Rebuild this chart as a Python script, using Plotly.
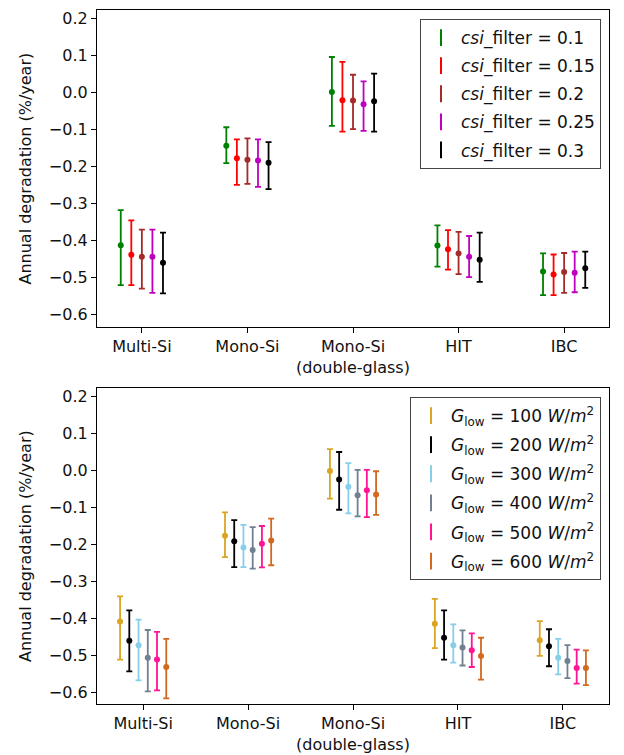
import plotly.graph_objects as go

categories = ["Multi-Si", "Mono-Si", "Mono-Si<br>(double-glass)", "HIT", "IBC"]
cat_pos = [0, 1, 2, 3, 4]
ytick_vals = [0.2, 0.1, 0.0, -0.1, -0.2, -0.3, -0.4, -0.5, -0.6]
ytick_text = ["0.2", "0.1", "0.0", "\u22120.1", "\u22120.2", "\u22120.3", "\u22120.4", "\u22120.5", "\u22120.6"]
y_title = "Annual degradation (%/year)"

# ---- top panel: csi_filter ----
csi_labels = ["0.1", "0.15", "0.2", "0.25", "0.3"]
csi_colors = ["#008000", "#ff0000", "#a52a2a", "#bf00bf", "#000000"]
csi_offsets = [-0.2, -0.1, 0.0, 0.1, 0.2]
csi_mean = [
    [-0.414, -0.145, 0.000, -0.415, -0.485],
    [-0.440, -0.179, -0.022, -0.425, -0.493],
    [-0.445, -0.183, -0.023, -0.436, -0.486],
    [-0.445, -0.185, -0.033, -0.445, -0.488],
    [-0.461, -0.191, -0.025, -0.453, -0.476],
]
csi_upper = [
    [-0.319, -0.095, 0.095, -0.360, -0.436],
    [-0.347, -0.128, 0.082, -0.373, -0.439],
    [-0.372, -0.125, 0.047, -0.378, -0.435],
    [-0.372, -0.128, 0.029, -0.389, -0.431],
    [-0.380, -0.135, 0.050, -0.380, -0.431],
]
csi_lower = [
    [-0.522, -0.192, -0.091, -0.472, -0.549],
    [-0.522, -0.251, -0.107, -0.480, -0.549],
    [-0.531, -0.248, -0.100, -0.492, -0.543],
    [-0.543, -0.256, -0.105, -0.500, -0.541],
    [-0.544, -0.262, -0.107, -0.513, -0.529],
]

# ---- bottom panel: G_low ----
g_labels = ["100", "200", "300", "400", "500", "600"]
g_colors = ["#daa520", "#000000", "#87ceeb", "#708090", "#ff1493", "#d2691e"]
g_offsets = [-0.22, -0.132, -0.044, 0.044, 0.132, 0.22]
g_mean = [
    [-0.409, -0.177, -0.002, -0.415, -0.460],
    [-0.461, -0.192, -0.025, -0.453, -0.476],
    [-0.473, -0.209, -0.045, -0.473, -0.507],
    [-0.507, -0.216, -0.068, -0.479, -0.516],
    [-0.512, -0.199, -0.054, -0.487, -0.535],
    [-0.532, -0.190, -0.066, -0.502, -0.535],
]
g_upper = [
    [-0.341, -0.114, 0.057, -0.348, -0.408],
    [-0.379, -0.135, 0.049, -0.379, -0.430],
    [-0.404, -0.148, 0.019, -0.417, -0.456],
    [-0.432, -0.154, 0.001, -0.433, -0.473],
    [-0.437, -0.151, 0.001, -0.441, -0.485],
    [-0.456, -0.131, -0.003, -0.453, -0.487],
]
g_lower = [
    [-0.512, -0.235, -0.077, -0.481, -0.502],
    [-0.544, -0.262, -0.107, -0.512, -0.530],
    [-0.568, -0.262, -0.117, -0.520, -0.552],
    [-0.598, -0.266, -0.125, -0.528, -0.562],
    [-0.595, -0.263, -0.127, -0.532, -0.577],
    [-0.617, -0.257, -0.121, -0.566, -0.581],
]

FONT = "DejaVu Sans"
fig = go.Figure()


def add_panel(means, uppers, lowers, offsets, colors, names, xa, ya, legend):
    for m, up, lo, off, col, name in zip(means, uppers, lowers, offsets, colors, names):
        xs = [c + off for c in cat_pos]
        fig.add_trace(go.Scatter(
            x=xs, y=m, mode="markers", xaxis=xa, yaxis=ya,
            marker=dict(color=col, size=6),
            error_y=dict(type="data", symmetric=False,
                         array=[u - v for u, v in zip(up, m)],
                         arrayminus=[v - l for v, l in zip(m, lo)],
                         color=col, thickness=1.8, width=3),
            showlegend=False, legendgroup=name, legend=legend,
        ))
        fig.add_trace(go.Scatter(
            x=[None], y=[None], mode="markers", xaxis=xa, yaxis=ya,
            marker=dict(color=col, size=12, symbol="line-ns-open",
                        line=dict(color=col, width=2)),
            name=name, legendgroup=name, legend=legend, showlegend=True,
        ))


add_panel(csi_mean, csi_upper, csi_lower, csi_offsets, csi_colors,
          ["<i>csi</i>_filter = " + s for s in csi_labels], "x", "y", "legend")
add_panel(g_mean, g_upper, g_lower, g_offsets, g_colors,
          ["<i>G</i><sub>low</sub> = " + s + " <i>W</i>/<i>m</i><sup>2</sup>" for s in g_labels],
          "x2", "y2", "legend2")

W, H = 624, 755
xdom = [97 / W, 609 / W]
ydom_top = [1 - 327 / H, 1 - 10 / H]
ydom_bot = [1 - 704 / H, 1 - 388 / H]

axis_common = dict(showline=True, linecolor="#000", linewidth=1.2, mirror=True,
                   ticks="outside", ticklen=5, tickwidth=1.2, tickcolor="#000",
                   showgrid=False, zeroline=False, automargin=False,
                   tickfont=dict(family=FONT, size=16, color="#111"))

xcommon = dict(axis_common, range=[-0.425, 4.425], tickvals=cat_pos, ticktext=categories, domain=xdom)
legend_common = dict(xanchor="right", yanchor="top",
                     bgcolor="white", bordercolor="#444", borderwidth=1,
                     font=dict(family=FONT, size=17, color="#111"), itemwidth=30)
fig.update_layout(
    width=W, height=H,
    margin=dict(l=0, r=0, t=0, b=0, autoexpand=False),
    paper_bgcolor="white", plot_bgcolor="white",
    font=dict(family=FONT, size=16, color="#111"),
    xaxis=dict(xcommon, anchor="y"),
    xaxis2=dict(xcommon, anchor="y2", range=[-0.44, 4.44]),
    yaxis=dict(axis_common, domain=ydom_top, anchor="x", range=[-0.635, 0.222],
               tickvals=ytick_vals, ticktext=ytick_text),
    yaxis2=dict(axis_common, domain=ydom_bot, anchor="x2", range=[-0.632, 0.222],
                tickvals=ytick_vals, ticktext=ytick_text),
    legend=dict(legend_common, x=601 / W, y=1 - 19 / H, tracegroupgap=3),
    legend2=dict(legend_common, x=601 / W, y=1 - 397 / H, tracegroupgap=4),
)
for dom in (ydom_top, ydom_bot):
    fig.add_annotation(text=y_title, xref="paper", yref="paper",
                       x=25 / W, y=(dom[0] + dom[1]) / 2, xanchor="center", yanchor="middle",
                       textangle=-90, showarrow=False,
                       font=dict(family=FONT, size=16, color="#111"))

fig.write_html("out.html", post_script="document.body.style.margin='0';",
               config={"displayModeBar": False})
